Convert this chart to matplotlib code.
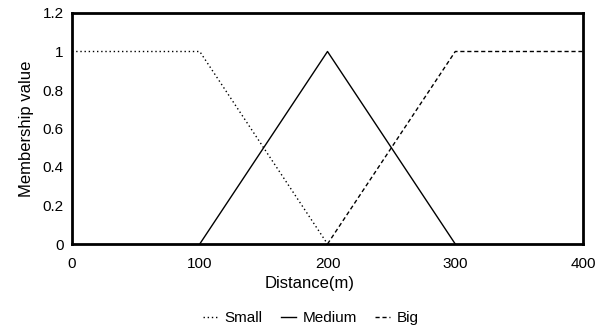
import matplotlib
matplotlib.use("Agg")
import matplotlib.pyplot as plt

plt.rcParams['font.family'] = ['Liberation Sans', 'DejaVu Sans']

small_x = [0, 100, 200]
small_y = [1, 1, 0]
medium_x = [100, 200, 300]
medium_y = [0, 1, 0]
big_x = [200, 300, 400]
big_y = [0, 1, 1]
x_ticks = [0, 100, 200, 300, 400]
y_ticks = [0, 0.2, 0.4, 0.6, 0.8, 1, 1.2]
y_labels = ['0', '0.2', '0.4', '0.6', '0.8', '1', '1.2']

fig = plt.figure(figsize=(5.99, 3.30), dpi=100)
ax = fig.add_axes([72/599, 1 - 244/330, (583-72)/599, (244-13)/330])

ax.plot(small_x, small_y, color='black', lw=1, linestyle=(0, (1, 2)), label='Small')
ax.plot(medium_x, medium_y, color='black', lw=1, linestyle='-', label='Medium')
ax.plot(big_x, big_y, color='black', lw=1, linestyle=(0, (3, 2)), label='Big')

ax.set_xlim(0, 400)
ax.set_ylim(0, 1.2)
ax.set_xticks(x_ticks)
ax.set_yticks(y_ticks)
ax.set_yticklabels(y_labels)
ax.tick_params(length=0, labelsize=11, pad=6)
ax.tick_params(axis='x', pad=9)
for s in ax.spines.values():
    s.set_linewidth(2)
ax.set_xlabel('Distance(m)', fontsize=12)
ax.xaxis.set_label_coords((310-72)/(583-72), -(276-244)/(244-13))
ax.xaxis.label.set_verticalalignment('top')
ax.set_ylabel('Membership value', fontsize=12, labelpad=6)

leg = fig.legend(loc='center', bbox_to_anchor=(311/599, 1 - 318/330), ncol=3,
                 frameon=False, fontsize=11, handlelength=1.0, handletextpad=0.4,
                 columnspacing=1.2)
fig.savefig('out.png', dpi=100)
